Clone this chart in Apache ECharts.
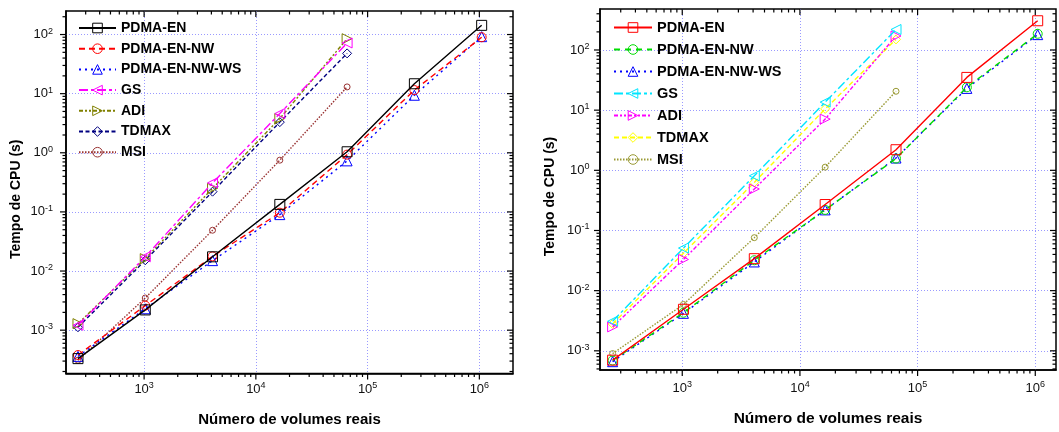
<!DOCTYPE html>
<html><head><meta charset="utf-8">
<script src="https://cdn.jsdelivr.net/npm/echarts@6/dist/echarts.min.js"></script>
<style>html,body{margin:0;padding:0;background:#fff}#c{width:1059px;height:432px}</style>
</head><body><div id="c"></div>
<script>
// ---------- data ----------
const xValues = [256, 1024, 4096, 16384, 65536, 262144, 1048576];
const seriesNames = ['PDMA-EN', 'PDMA-EN-NW', 'PDMA-EN-NW-WS', 'GS', 'ADI', 'TDMAX', 'MSI'];
const yAxisTitle = 'Tempo de CPU (s)';
const xAxisTitle = 'Número de volumes reais';

// left panel
const leftPdmaEn   = [0.00033, 0.0022, 0.0174, 0.134, 1.04, 14.7, 143];
const leftPdmaEnNw = [0.00038, 0.0026, 0.0177, 0.097, 0.93, 11.5, 90];
const leftPdmaEnNwWs = [0.00036, 0.0023, 0.0150, 0.090, 0.73, 9.4, 92];
const leftGs    = [0.00121, 0.0174, 0.31, 4.6, 72];
const leftAdi   = [0.00129, 0.0162, 0.25, 3.8, 85];
const leftTdmax = [0.00112, 0.0152, 0.22, 3.3, 48];
const leftMsi   = [0.00031, 0.0035, 0.049, 0.75, 13];

// right panel
const rightPdmaEn   = [0.00070, 0.0049, 0.034, 0.27, 2.2, 35, 306];
const rightPdmaEnNw = [0.00069, 0.0043, 0.032, 0.22, 1.57, 24, 186];
const rightPdmaEnNwWs = [0.00066, 0.0042, 0.030, 0.22, 1.6, 23, 180];
const rightGs    = [0.0031, 0.051, 0.81, 13.6, 219];
const rightAdi   = [0.0025, 0.033, 0.49, 7.1, 171];
const rightTdmax = [0.0028, 0.042, 0.63, 10.5, 150];
const rightMsi   = [0.0009, 0.0059, 0.076, 1.13, 20.6];

// ---------- styles ----------
const FONT = 'Liberation Sans, Arial, sans-serif';
const leftColors  = ['#000000', '#ff0000', '#0000ff', '#ff00ff', '#808000', '#000080', '#993333'];
const rightColors = ['#ff0000', '#00dd00', '#0000ff', '#00e5ff', '#ff00ff', '#ffff00', '#999933'];
const leftDash  = ['solid', [6, 4], [2, 4], [9, 3, 3, 3], [4, 2, 2, 2, 2, 2], [4, 2.5], [1.5, 1.5]];
const rightDash = ['solid', [6, 5], [2, 4], [9, 3, 3, 3], [4, 2, 2, 2, 2, 2], [5, 3], [1.5, 1.5]];
const symbols = ['rect', 'circle', 'triangle', 'triangle', 'triangle', 'diamond', 'circle'];
const symRot  = [0, 0, 0, 90, -90, 0, 0];
const symSize = [10, 9, 10, 10, 10, 9, 6];

const panels = [
  { grid: { left: 66, top: 11, width: 447, height: 365 }, xMin: 200, xMax: 2e6, yMin: 1.85e-4, yMax: 250,
    data: [leftPdmaEn, leftPdmaEnNw, leftPdmaEnNwWs, leftGs, leftAdi, leftTdmax, leftMsi],
    colors: leftColors, dash: leftDash, suffix: '',
    legend: { left: 78, top: 21, itemWidth: 37, itemGap: 6.7, fontSize: 14 },
    xLabelMargin: 8, yLabelMargin: 13, xNameGap: 38.5, xNameSize: 15, yNameGap: 43 },
  { grid: { left: 600, top: 9, width: 457, height: 370 }, xMin: 200, xMax: 1.5e6, yMin: 4.8e-4, yMax: 480,
    data: [rightPdmaEn, rightPdmaEnNw, rightPdmaEnNwWs, rightGs, rightAdi, rightTdmax, rightMsi],
    colors: rightColors, dash: rightDash, suffix: '#R',
    legend: { left: 613, top: 20, itemWidth: 38, itemGap: 7, fontSize: 14.5 },
    xLabelMargin: 10.5, yLabelMargin: 10.5, xNameGap: 41, xNameSize: 15.5, yNameGap: 43 }
];

function powLabel(v) {
  const l = Math.log10(v), e = Math.round(l);
  if (Math.abs(l - e) > 1e-6) return '';
  return '{b|10}{s|' + e + '}';
}
const labelRich = {
  b: { fontSize: 13, fontFamily: FONT, color: '#111', lineHeight: 16 },
  s: { fontSize: 9, fontFamily: FONT, color: '#111', lineHeight: 16, verticalAlign: 'top' }
};
function logTicks(lo, hi) {
  const out = [];
  for (let e = Math.floor(Math.log10(lo)); e <= Math.ceil(Math.log10(hi)); e++) {
    for (let m = 1; m <= 9; m++) {
      const v = m * Math.pow(10, e);
      if (v > lo * 1.0001 && v < hi / 1.0001) out.push({ v: v, major: m === 1 ? 1 : 0 });
    }
  }
  return out;
}

const option = { animation: false, backgroundColor: '#fff', grid: [], xAxis: [], yAxis: [], legend: [], series: [] };

panels.forEach((p, gi) => {
  option.grid.push(Object.assign({ show: true, borderColor: '#000', borderWidth: 1.5, backgroundColor: 'transparent' }, p.grid));
  option.xAxis.push({
    type: 'log', logBase: 10, gridIndex: gi, min: p.xMin, max: p.xMax,
    axisLine: { show: true, lineStyle: { color: '#000', width: 1.5 } },
    axisTick: { show: false },
    axisLabel: { formatter: powLabel, rich: labelRich, margin: p.xLabelMargin, showMinLabel: true, showMaxLabel: true },
    splitLine: { show: true, showMinLine: false, showMaxLine: false, lineStyle: { color: '#9a9aff', type: [1, 2], width: 1 } },
    name: xAxisTitle, nameLocation: 'middle', nameGap: p.xNameGap,
    nameTextStyle: { fontFamily: FONT, fontWeight: 'bold', fontSize: p.xNameSize, color: '#000' }
  });
  option.yAxis.push({
    type: 'log', logBase: 10, gridIndex: gi, min: p.yMin, max: p.yMax,
    axisLine: { show: true, lineStyle: { color: '#000', width: 1.5 } },
    axisTick: { show: false },
    axisLabel: { formatter: powLabel, rich: labelRich, margin: p.yLabelMargin },
    splitLine: { show: true, showMinLine: false, showMaxLine: false, lineStyle: { color: '#9a9aff', type: [1, 2], width: 1 } },
    name: yAxisTitle, nameLocation: 'middle', nameGap: p.yNameGap,
    nameTextStyle: { fontFamily: FONT, fontWeight: 'bold', fontSize: 14, color: '#000', padding: [0, 14, 0, 0] }
  });
  option.legend.push({
    orient: 'vertical', left: p.legend.left, top: p.legend.top, padding: 0,
    itemWidth: p.legend.itemWidth, itemHeight: 12, itemGap: p.legend.itemGap,
    selectedMode: false,
    itemStyle: { borderWidth: 1 },
    data: seriesNames.map(n => n + p.suffix),
    formatter: n => n.replace('#R', ''),
    textStyle: { fontFamily: FONT, fontWeight: 'bold', fontSize: p.legend.fontSize, color: '#000' }
  });
  seriesNames.forEach((name, si) => {
    const vals = p.data[si];
    option.series.push({
      type: 'line', name: name + p.suffix, xAxisIndex: gi, yAxisIndex: gi,
      data: vals.map((y, i) => [xValues[i], y]),
      symbol: symbols[si], symbolRotate: symRot[si], symbolSize: symSize[si],
      showAllSymbol: true,
      lineStyle: { color: p.colors[si], width: 1.4, type: p.dash[si] },
      itemStyle: { color: 'rgba(255,255,255,0)', borderColor: p.colors[si], borderWidth: 1 },
      emphasis: { disabled: true },
      z: 10 - si
    });
  });
  // ticks (major + minor) on all four sides
  const xt = logTicks(p.xMin, p.xMax), yt = logTicks(p.yMin, p.yMax);
  const yMid = Math.sqrt(p.yMin * p.yMax), xMid = Math.sqrt(p.xMin * p.xMax);
  const tickStyle = { stroke: '#000', lineWidth: 1.2 };
  option.series.push({
    type: 'custom', xAxisIndex: gi, yAxisIndex: gi, silent: true, clip: false, z: 20,
    data: xt.map(t => [t.v, yMid, t.major]),
    encode: { x: 0, y: 1 },
    renderItem: (params, api) => {
      const v = api.value(0), len = api.value(2) ? 6 : 3.5;
      const pb = api.coord([v, p.yMin]), pt = api.coord([v, p.yMax]);
      return { type: 'group', children: [
        { type: 'line', shape: { x1: pb[0], y1: pb[1], x2: pb[0], y2: pb[1] + len }, style: tickStyle },
        { type: 'line', shape: { x1: pt[0], y1: pt[1], x2: pt[0], y2: pt[1] + len }, style: tickStyle }
      ] };
    }
  });
  option.series.push({
    type: 'custom', xAxisIndex: gi, yAxisIndex: gi, silent: true, clip: false, z: 20,
    data: yt.map(t => [xMid, t.v, t.major]),
    encode: { x: 0, y: 1 },
    renderItem: (params, api) => {
      const v = api.value(1), len = api.value(2) ? 6 : 3.5;
      const pl = api.coord([p.xMin, v]), pr = api.coord([p.xMax, v]);
      return { type: 'group', children: [
        { type: 'line', shape: { x1: pl[0], y1: pl[1], x2: pl[0] - len, y2: pl[1] }, style: tickStyle },
        { type: 'line', shape: { x1: pr[0], y1: pr[1], x2: pr[0] - len, y2: pr[1] }, style: tickStyle }
      ] };
    }
  });
});

const chart = echarts.init(document.getElementById('c'), null, { renderer: 'canvas' });
chart.setOption(option);
</script>
</body></html>
